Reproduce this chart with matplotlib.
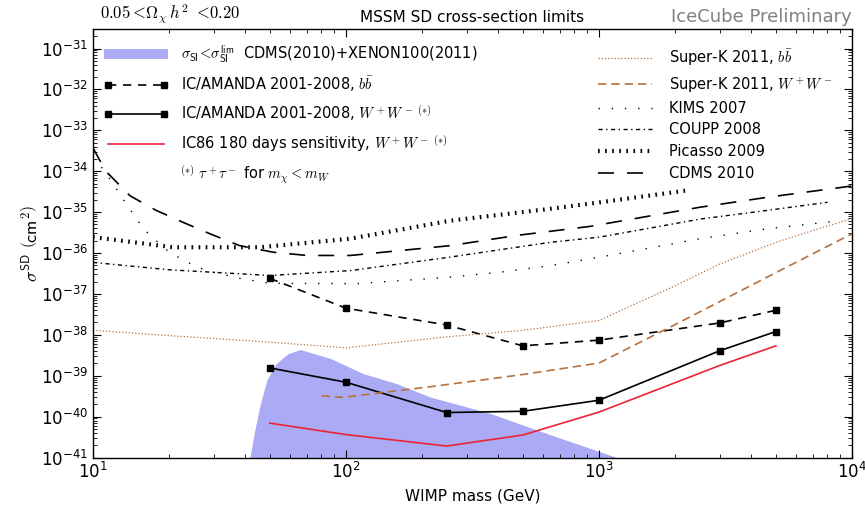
import numpy as np
import matplotlib
matplotlib.use("Agg")
import matplotlib.pyplot as plt
from matplotlib.ticker import FixedLocator, LogLocator, LogFormatterSciNotation, NullFormatter

plt.rcParams['mathtext.fontset'] = 'cm'
plt.rcParams['font.family'] = ['DejaVu Sans']

# ---------------- data (log10 of sigma in cm^2) ----------------
ic_mass = [50, 100, 250, 500, 1000, 3000, 5000]
ic_bb = [-36.62, -37.35, -37.76, -38.27, -38.13, -37.71, -37.40]
ic_ww = [-38.81, -39.16, -39.90, -39.87, -39.60, -38.39, -37.92]
ic86 = [-40.16, -40.44, -40.72, -40.45, -39.89, -38.75, -38.27]

skbb_mass = [10, 20, 50, 100, 250, 500, 1000, 2000, 3000, 5000, 7000, 10000]
skbb = [-37.89, -38.02, -38.18, -38.32, -38.05, -37.89, -37.65, -36.80, -36.27, -35.74, -35.45, -35.16]

skww_mass = [80, 97, 215, 340, 500, 1000, 2000, 5000, 10000]
skww = [-39.49, -39.53, -39.27, -39.11, -38.97, -38.69, -37.75, -36.48, -35.53]

kims_mass = [10.8, 11.9, 13.5, 15.6, 16.8, 20.1, 24.6, 28.1, 38.7, 50, 110, 258, 406, 640, 1010, 2510, 4600, 8970]
kims = [-33.9, -34.27, -34.79, -35.35, -35.57, -35.99, -36.28, -36.43, -36.63, -36.74, -36.75, -36.59, -36.47, -36.31, -36.10, -35.65, -35.41, -35.21]

coupp_mass = [10, 20, 50, 104, 258, 640, 1010, 2510, 4600, 8000]
coupp = [-36.23, -36.41, -36.55, -36.43, -36.10, -35.74, -35.61, -35.17, -34.96, -34.76]

picasso_mass = [10, 20.7, 45.7, 104, 258, 640, 1010, 2290]
picasso = [-35.61, -35.86, -35.86, -35.65, -35.21, -34.92, -34.76, -34.46]

cdms_mass = [10, 11.2, 14.0, 17.8, 22.7, 29, 38, 51.5, 70, 104, 258, 473, 920, 2510, 4600, 8970, 10000]
cdms = [-33.43, -33.99, -34.60, -34.96, -35.25, -35.53, -35.82, -35.98, -36.06, -36.06, -35.82, -35.57, -35.35, -34.88, -34.64, -34.40, -34.36]

band_mass = [41.7, 43.6, 45.6, 48.6, 53, 59, 66, 87, 117, 158, 215, 371, 620, 1175]
band_top = [-41.0, -40.33, -39.76, -39.11, -38.70, -38.46, -38.36, -38.58, -38.95, -39.19, -39.52, -39.92, -40.41, -41.0]

def p(v):
    return np.power(10.0, np.array(v))

# ---------------- figure ----------------
W, H = 865, 505
fig = plt.figure(figsize=(W / 100, H / 100), dpi=100)
L, R, T, B = 93, 852, 29, 457.5
ax = fig.add_axes([L / W, 1 - B / H, (R - L) / W, (B - T) / H])
ax.set_xscale('log')
ax.set_yscale('log')
ax.set_xlim(10, 1e4)
ax.set_ylim(1e-41, 3e-31)

band = ax.fill_between(band_mass, 1e-42, p(band_top), color='#aaaaf5', lw=0,
                       label=r'$\sigma_{\mathsf{SI}}\!<\!\sigma_{\mathsf{SI}}^{\mathsf{lim}}$  CDMS(2010)+XENON100(2011)')

l_bb, = ax.plot(ic_mass, p(ic_bb), color='black', ls=(0, (5, 4)), lw=1.2, marker='s', ms=5,
                label=r'IC/AMANDA 2001-2008, $b\bar{b}$')
l_ww, = ax.plot(ic_mass, p(ic_ww), color='black', ls='-', lw=1.2, marker='s', ms=5,
                label=r'IC/AMANDA 2001-2008, $W^+W^-\,^{(*)}$')
l_86, = ax.plot(ic_mass, p(ic86), color='#ee2233', lw=1.2,
                label=r'IC86 180 days sensitivity, $W^+W^-\,^{(*)}$')

brown = '#b8703c'
l_skbb, = ax.plot(skbb_mass, p(skbb), color=brown, ls=(0, (1, 1.6)), lw=0.9,
                  label=r'Super-K 2011, $b\bar{b}$')
l_skww, = ax.plot(skww_mass, p(skww), color=brown, ls=(0, (5, 3)), lw=1.2,
                  label=r'Super-K 2011, $W^+W^-$')
l_kims, = ax.plot(kims_mass, p(kims), color='black', ls=(0, (1, 8.5)), lw=1.0,
                  label='KIMS 2007')
l_coupp, = ax.plot(coupp_mass, p(coupp), color='black', ls=(0, (3, 2.5, 1, 2.5)), lw=1.0,
                   label='COUPP 2008')
l_pic, = ax.plot(picasso_mass, p(picasso), color='black', ls=(0, (0.4, 1.3)), lw=3.0,
                 label='Picasso 2009')
l_cdms, = ax.plot(cdms_mass, p(cdms), color='black', ls=(0, (9.6, 7.8)), lw=1.2,
                  label='CDMS 2010')

# ticks
ax.xaxis.set_major_locator(FixedLocator([10, 100, 1000, 10000]))
ax.xaxis.set_major_formatter(LogFormatterSciNotation())
ax.xaxis.set_minor_locator(LogLocator(base=10, subs=np.arange(2, 10), numticks=50))
ax.xaxis.set_minor_formatter(NullFormatter())
ax.yaxis.set_major_locator(FixedLocator(10.0 ** np.arange(-41, -30)))
ax.yaxis.set_major_formatter(LogFormatterSciNotation())
ax.yaxis.set_minor_locator(LogLocator(base=10, subs=np.arange(2, 10), numticks=50))
ax.yaxis.set_minor_formatter(NullFormatter())
ax.tick_params(which='both', direction='in', top=True, right=True, labelsize=12)
ax.tick_params(which='major', length=6, width=0.8)
ax.tick_params(which='minor', length=3, width=0.6)
for s in ax.spines.values():
    s.set_linewidth(1.0)

ax.set_xlabel('WIMP mass (GeV)', fontsize=11, labelpad=4)
ax.set_ylabel(r'$\sigma^{\mathsf{SD}}\ \left(\mathsf{cm}^2\right)$', fontsize=13, labelpad=0)

# legends
leg1 = ax.legend(handles=[band, l_bb, l_ww, l_86], loc='upper left',
                 bbox_to_anchor=(104 / W, 1 - 43 / H), bbox_transform=fig.transFigure,
                 frameon=False, fontsize=10.5, labelspacing=0.66, handlelength=4.4,
                 handletextpad=0.9, borderpad=0, borderaxespad=0, numpoints=2)
ax.add_artist(leg1)
ax.legend(handles=[l_skbb, l_skww, l_kims, l_coupp, l_pic, l_cdms], loc='upper left',
          bbox_to_anchor=(598 / W, 1 - 48 / H), bbox_transform=fig.transFigure,
          frameon=False, fontsize=10.5, labelspacing=0.46, handlelength=3.7,
          handletextpad=1.2, borderpad=0, borderaxespad=0)

fig.text(180 / W, 1 - 175 / H, r'$^{(*)}\ \tau^+\tau^-$ for $m_\chi<m_W$', fontsize=10.5,
         va='center', ha='left')

fig.text(100 / W, 1 - 14 / H, r'$0.05<\!\Omega_\chi\, h^2\ <\!0.20$', fontsize=12, va='center', ha='left')
fig.text(472 / W, 1 - 17 / H, 'MSSM SD cross-section limits', fontsize=11, va='center', ha='center')
fig.text(852 / W, 1 - 17 / H, 'IceCube Preliminary', fontsize=13, va='center', ha='right', color='#808080')

fig.savefig('out.png', dpi=100)
